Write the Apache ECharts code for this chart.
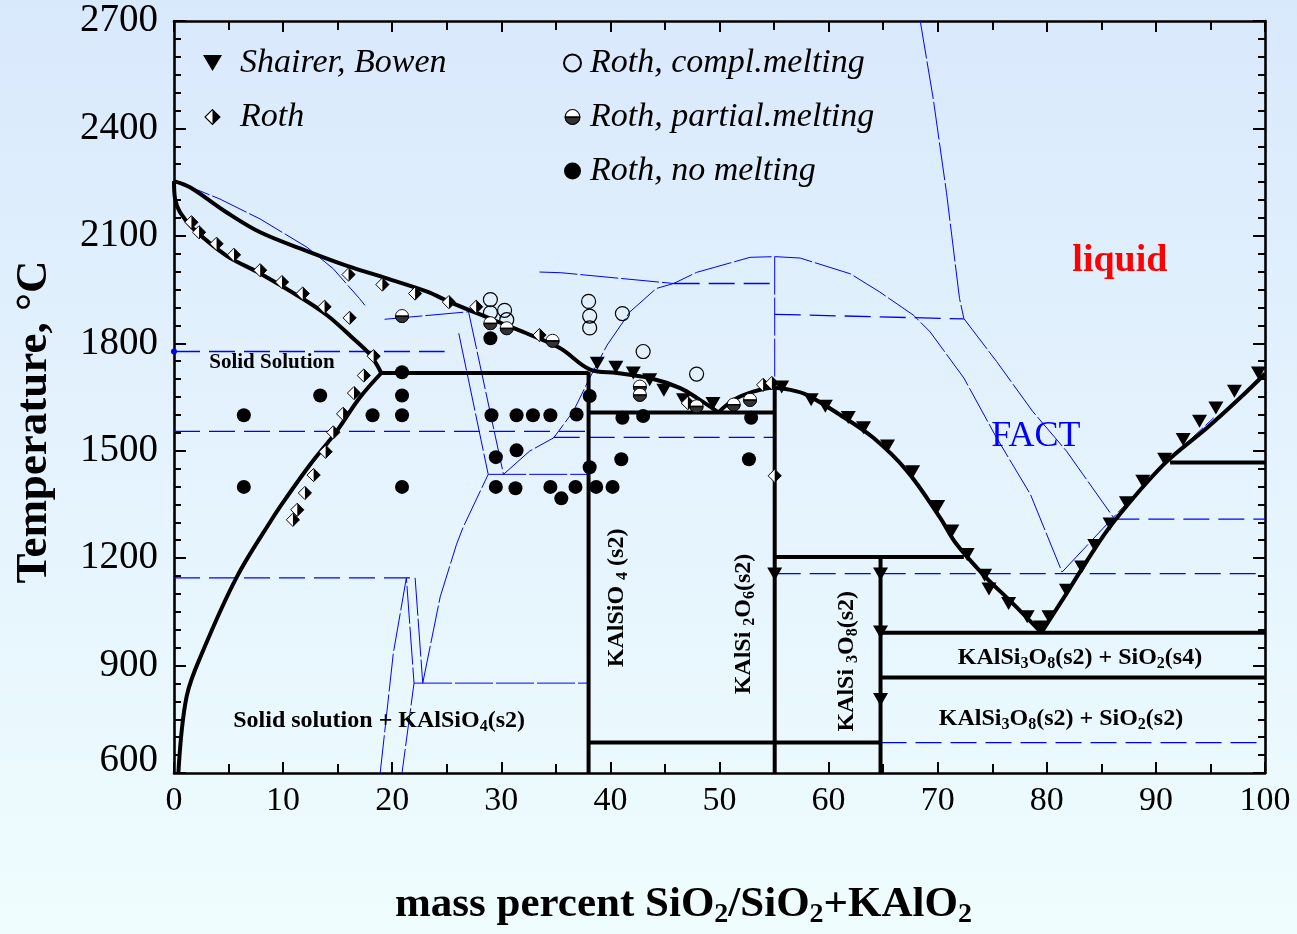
<!DOCTYPE html>
<html><head><meta charset="utf-8">
<script src="https://cdn.jsdelivr.net/npm/echarts@6/dist/echarts.min.js"></script>
<style>html,body{margin:0;padding:0;}#c{width:1297px;height:934px;}</style>
</head><body><div id="c"></div>
<script>
// ---------------- DATA ----------------
const xTicks = [0,10,20,30,40,50,60,70,80,90,100];
const yTicks = [600,900,1200,1500,1800,2100,2400,2700];

// black (assessed) lines
const liquidusLeft = [[0,2253],[1.5,2235],[4.8,2166],[7.9,2110],[12.5,2054],[15.8,2017],[19.5,1981],[23.2,1944],[25.3,1915],[29.3,1865],[32.3,1828],[35.4,1786],[38.2,1726],[40.6,1717],[43.6,1703],[46.4,1675],[48.2,1642],[49.9,1607]];
const liquidusMid = [[49.9,1607],[51.3,1642],[53.1,1665],[54.9,1676],[56.5,1670],[58,1656],[61,1601],[64.1,1536],[67.2,1443],[70.2,1314],[71.7,1240],[74.3,1150],[76.9,1073],[79.5,992]];
const liquidusRight = [[79.5,992],[81.8,1101],[83.9,1203],[86.1,1300],[90.7,1461],[94.7,1564],[97.7,1647],[100,1715]];
const solidusUpper = [[0,2253],[0.1,2203],[0.55,2166],[1.8,2119],[4.8,2045],[7.9,1995],[11.5,1930],[14,1879],[16.4,1814],[18,1767],[19,1717]];
const solidusLower = [[19,1717],[17,1647],[14.9,1554],[12.5,1462],[10.3,1369],[9,1310],[5.75,1147],[2.7,944],[1.16,814],[0.4,600]];
const blackSegments = [
  [[19,1717],[38,1717]],
  [[38,1720],[38,600]],
  [[38,1607],[55.06,1607]],
  [[55.06,1677],[55.06,600]],
  [[38,685],[64.76,685]],
  [[55.06,1203],[72.4,1203]],
  [[64.76,1203],[64.76,600]],
  [[64.76,992],[100,992]],
  [[64.76,867],[100,867]],
  [[91.3,1467],[100,1467]]
];

// blue (FACT) lines, near-solid
const factSolid = [
  [[0,2253],[1.2,2240],[4.2,2203],[7.9,2147],[12.2,2068],[14.6,2008],[17,1925],[17.5,1906]],
  [[19.3,1867],[27,1888]],
  [[27,1888],[30.2,1434]],
  [[26.1,1828],[28.8,1434]],
  [[28.8,1434],[37.9,1434]],
  [[30.2,1434],[32.6,1499],[34.8,1536],[36.6,1610],[38.1,1703],[39.7,1795],[41.8,1888],[44.2,1953],[45.8,1967],[47.9,1998],[52.8,2040],[55.1,2042],[57.4,2038],[62,1994],[64.7,1943],[67.8,1878],[69.3,1832],[72.4,1703],[75.4,1536],[78.5,1378],[81.4,1161]],
  [[22.8,851],[24.4,1092],[25.9,1239],[26.5,1286],[28.8,1434]],
  [[18.9,600],[20.1,934],[21.3,1145],[22,851],[20.9,600]],
  [[22.1,1145],[22.8,851]],
  [[22,851],[37.9,851]],
  [[33.5,1999],[35.5,1997],[45.8,1967]],
  [[55.06,2042],[55.06,1684]],
  [[68.4,2700],[69.6,2481],[70.8,2222],[72,1925],[72.4,1869]],
  [[72.4,1869],[75.4,1749],[78.7,1610],[81.8,1499],[86.1,1314]],
  [[81.4,1161],[86.1,1314],[90.7,1461],[95.3,1592]]
];
// blue dashed lines
const factDashed = [
  [[0,1777],[24.8,1777]],
  [[0,1145],[22.1,1145]],
  [[0,1554],[37.9,1554]],
  [[34.8,1537],[55.06,1537]],
  [[45.8,1967],[55.06,1967]],
  [[55.06,1881],[72.4,1868]],
  [[86.1,1309],[100,1309]],
  [[55.06,1157],[100,1157]],
  [[64.76,685],[100,685]]
];
const blueDot = [[0,1777]];

// experimental points
const shairerBowen = [[38.8,1744],[40.5,1733],[42.1,1717],[43.6,1698],[44.9,1669],[46.7,1642],[49.4,1632],[55.7,1678],[58.4,1642],[59.7,1624],[61.8,1593],[63.2,1564],[65.4,1513],[67.7,1441],[70,1344],[71.3,1276],[72.7,1210],[74.3,1152],[74.7,1114],[76.5,1073],[78.2,1036],[79.4,1008],[80.2,1036],[81.8,1110],[83.2,1175],[84.4,1235],[85.8,1295],[87.3,1355],[88.8,1415],[90.8,1476],[92.5,1531],[94,1582],[95.5,1619],[97.2,1666],[99.4,1717],[55.06,1156],[64.76,1156],[64.76,994],[64.76,805]];
const roth = [[1.6,2138],[2.3,2110],[3.9,2078],[5.5,2047],[7.9,2004],[9.9,1971],[11.8,1939],[13.8,1902],[16.1,1871],[18.3,1764],[17.4,1710],[16.5,1661],[15.5,1603],[14.6,1551],[13.9,1497],[12.8,1432],[12,1382],[11.3,1335],[10.9,1307],[16,1992],[19.1,1964],[22.1,1939],[25.2,1915],[27.7,1902],[33.5,1823],[47.1,1633],[54,1684],[54.8,1689],[55.06,1430]];
const rothComplete = [[29,1922],[30.3,1892],[29,1885],[30.5,1866],[38,1917],[38.1,1876],[38.1,1843],[41.1,1883],[43,1777],[47.9,1714]];
const rothPartial = [[20.9,1876],[29,1856],[30.5,1842],[34.7,1807],[42.7,1679],[42.7,1656],[47.9,1624],[51.3,1629],[52.8,1642]];
const rothNone = [[6.4,1599],[6.4,1399],[13.4,1654],[18.2,1599],[20.9,1719],[20.9,1654],[20.9,1599],[20.9,1399],[29,1814],[29.1,1599],[31.4,1599],[32.9,1599],[34.5,1599],[36.9,1601],[29.5,1482],[31.4,1501],[29.5,1399],[31.3,1395],[34.5,1399],[35.5,1367],[36.8,1399],[38.1,1653],[38.1,1454],[38.7,1399],[40.2,1399],[41.1,1592],[43,1597],[41,1476],[52.9,1592],[52.7,1476]];

// region labels: [x, y, rich text]
const phaseLabels = [
  [8.98,1747,'{m|Solid Solution}'],
  [18.8,745,'{b|Solid solution + KAlSiO}{s|4}{b|(s2)}'],
  [83.04,921,'{b|KAlSi}{s|3}{b|O}{s|8}{b|(s2) + SiO}{s|2}{b|(s4)}'],
  [81.3,750,'{b|KAlSi}{s|3}{b|O}{s|8}{b|(s2) + SiO}{s|2}{b|(s2)}']
];
const compoundLabels = [
  [40.6,1089,'{b|KAlSiO }{s|4}{b| (s2)}'],
  [52.2,1016,'{b|KAlSi }{s|2}{b|O}{s|6}{b|(s2)}'],
  [61.7,912,'{b|KAlSi }{s|3}{b|O}{s|8}{b|(s2)}']
];
const liquidLabel = [[86.7,2028,'liquid']];
const factLabel = [[79.0,1540,'FACT']];

// ---------------- BUILD ----------------
const SERIF = "'Liberation Serif','Times New Roman',Times,serif";
const BLUE = '#0000ff';
const triPath = 'path://M0,0L20,0L10,17Z';
const enc = s => 'image://data:image/svg+xml;charset=utf-8,' + encodeURIComponent(s);
const diamondIcon = enc("<svg xmlns='http://www.w3.org/2000/svg' width='40' height='40' viewBox='0 0 20 20'><path d='M10 1.2L18.8 10L10 18.8L1.2 10Z' fill='#fff' stroke='#000' stroke-width='1.3'/><path d='M10 1.2L18.8 10L10 18.8Z' fill='#000'/></svg>");
const partialIcon = enc("<svg xmlns='http://www.w3.org/2000/svg' width='40' height='40' viewBox='0 0 20 20'><circle cx='10' cy='10' r='8.7' fill='#fff' stroke='#000' stroke-width='1.2'/><path d='M1.3 10A8.7 8.7 0 0 0 18.7 10Z' fill='#333' stroke='#000' stroke-width='1.2'/><line x1='1.3' y1='10.3' x2='18.7' y2='10.3' stroke='#000' stroke-width='1.8'/></svg>");

function line(data, color, width, type, smooth, z) {
  return {type:'line', data, symbol:'none', showSymbol:false, smooth: smooth || false,
    lineStyle:{color, width, type, opacity:1}, z, silent:true, animation:false};
}
const series = [];
factSolid.forEach(d => series.push(line(d, BLUE, 1, [38,3], false, 2)));
factDashed.forEach(d => series.push(line(d, BLUE, 1.3, [26,9], false, 2)));
series.push({type:'scatter', data: blueDot, symbol:'circle', symbolSize:6, itemStyle:{color:BLUE, opacity:1}, z:2, silent:true});
[liquidusLeft, liquidusMid, liquidusRight, solidusUpper, solidusLower].forEach(d => series.push(line(d, '#000', 4, 'solid', 0.35, 4)));
blackSegments.forEach(d => series.push(line(d, '#000', 4, 'solid', false, 4)));

series.push({name:'Shairer, Bowen', type:'scatter', data: shairerBowen, symbol: triPath, symbolSize:[15,13], itemStyle:{color:'#000', opacity:1}, z:8});
series.push({name:'Roth', type:'scatter', data: roth, symbol: diamondIcon, symbolSize:15, itemStyle:{opacity:1}, z:8});
series.push({name:'Roth, compl.melting', type:'scatter', data: rothComplete, symbol:'circle', symbolSize:14, itemStyle:{color:'rgba(255,255,255,0)', borderColor:'#000', borderWidth:1.2, opacity:1}, z:8});
series.push({name:'Roth, partial.melting', type:'scatter', data: rothPartial, symbol: partialIcon, symbolSize:15, itemStyle:{opacity:1}, z:8});
series.push({name:'Roth, no melting', type:'scatter', data: rothNone, symbol:'circle', symbolSize:14, itemStyle:{color:'#000', opacity:1}, z:8});

const subRich = {
  b:{fontFamily:SERIF, fontWeight:'bold', fontSize:24, lineHeight:28, color:'#000'},
  s:{fontFamily:SERIF, fontWeight:'bold', fontSize:16, lineHeight:16, verticalAlign:'bottom', color:'#000'},
  m:{fontFamily:SERIF, fontWeight:'bold', fontSize:21, color:'#000'}
};
function labelSeries(items, rotate, extra) {
  return {type:'scatter', symbolSize:0, silent:true, z:9, itemStyle:{opacity:1},
    data: items.map(p => ({value:[p[0], p[1]], label:{formatter:p[2]}})),
    label:Object.assign({show:true, position:'inside', rotate: rotate, rich: subRich, color:'#000', opacity:1}, extra || {})};
}
series.push(labelSeries(phaseLabels, 0));
series.push(labelSeries(compoundLabels, 90));
series.push(labelSeries(liquidLabel, 0, {fontFamily:SERIF, fontWeight:'bold', fontSize:38, color:'#ff0000'}));
series.push(labelSeries(factLabel, 0, {fontFamily:SERIF, fontSize:36, color:BLUE}));

const axisLineStyle = {color:'#000', width:2.6};
function xAxis(pos, labels) {
  return {type:'value', min:0, max:100, interval:10, position:pos,
    axisLine:{show:true, onZero:false, lineStyle:axisLineStyle},
    axisTick:{show:true, inside:true, length:11, lineStyle:{color:'#000', width:2}},
    minorTick:{show:true, splitNumber:2, length:9, lineStyle:{color:'#000', width:2}},
    splitLine:{show:false}, minorSplitLine:{show:false},
    axisLabel:{show:labels, fontFamily:SERIF, fontSize:34, color:'#000', margin:11,
      formatter: v => xTicks.includes(v) ? String(v) : ''}};
}
function yAxis(pos, labels) {
  return {type:'value', min:600, max:2700, interval:300, position:pos,
    axisLine:{show:true, onZero:false, lineStyle:axisLineStyle},
    axisTick:{show:true, inside:true, length:12, lineStyle:{color:'#000', width:2}},
    minorTick:{show:true, splitNumber:6, length:7, lineStyle:{color:'#000', width:2}},
    splitLine:{show:false}, minorSplitLine:{show:false},
    axisLabel:{show:labels, fontFamily:SERIF, fontSize:39, color:'#000', margin:16,
      formatter: v => !yTicks.includes(v) ? '' : (v === 600 ? '{lo|600}' : String(v)),
      rich:{lo:{fontFamily:SERIF, fontSize:39, color:'#000', padding:[0,0,24,0]}}}};
}
const xa = xAxis('bottom', true);
xa.name = '{a|mass percent SiO}{s|2}{a|/SiO}{s|2}{a|+KAlO}{s|2}';
xa.nameLocation = 'middle';
xa.nameGap = 108;
xa.nameTextStyle = {padding:[0,72,0,0], rich:{
  a:{fontFamily:SERIF, fontWeight:'bold', fontSize:43, lineHeight:48, color:'#000'},
  s:{fontFamily:SERIF, fontWeight:'bold', fontSize:28, lineHeight:26, verticalAlign:'bottom', color:'#000'}}};
const ya = yAxis('left', true);
ya.name = 'Temperature, °C';
ya.nameLocation = 'middle';
ya.nameGap = 117;
ya.nameTextStyle = {fontFamily:SERIF, fontWeight:'bold', fontSize:45, color:'#000', padding:[0,50,0,0]};

const legendText = {fontFamily:SERIF, fontStyle:'italic', fontSize:34, lineHeight:36, color:'#000'};
const option = {
  animation:false,
  backgroundColor:{type:'linear', x:0, y:0, x2:0, y2:1, colorStops:[{offset:0, color:'#d9e9fc'},{offset:1, color:'#effdfe'}]},
  grid:{left:174, right:32, top:21, bottom:157, containLabel:false},
  xAxis:[xa, xAxis('top', false)],
  yAxis:[ya, yAxis('right', false)],
  legend:[
    {orient:'vertical', left:198, top:40, itemGap:18, itemWidth:19, itemHeight:17, selectedMode:false,
     textStyle:Object.assign({padding:[0,0,0,13]}, legendText),
     data:[{name:'Shairer, Bowen', icon:triPath}, {name:'Roth', icon:diamondIcon}]},
    {orient:'vertical', left:558, top:40, itemGap:18, itemWidth:17, itemHeight:17, selectedMode:false,
     textStyle:Object.assign({padding:[0,0,0,4]}, legendText),
     data:[{name:'Roth, compl.melting', icon:'circle'}, {name:'Roth, partial.melting', icon:partialIcon}, {name:'Roth, no melting', icon:'circle'}]}
  ],
  series
};
const chart = echarts.init(document.getElementById('c'), null, {renderer:'canvas'});
chart.setOption(option);
</script></body></html>
